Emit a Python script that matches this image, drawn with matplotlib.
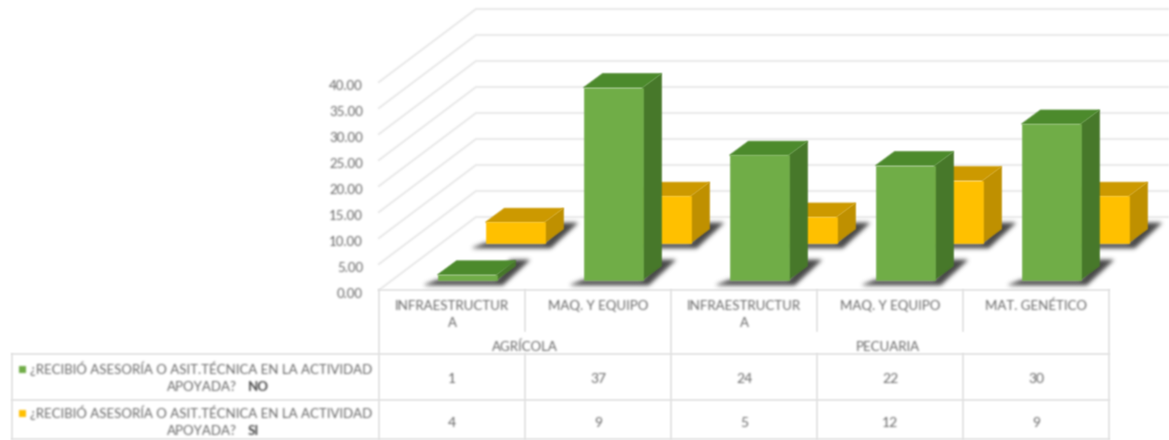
import numpy as np
import matplotlib
matplotlib.use("Agg")
import matplotlib.pyplot as plt
from matplotlib.patches import Polygon, Rectangle
from matplotlib.transforms import Affine2D, ScaledTranslation

# ---- data ----
categories = ["INFRAESTRUCTUR\nA", "MAQ. Y EQUIPO", "INFRAESTRUCTUR\nA", "MAQ. Y EQUIPO", "MAT. GENÉTICO"]
groups = ["AGRÍCOLA", "PECUARIA"]
series_no = [1, 37, 24, 22, 30]
series_si = [4, 9, 5, 12, 9]
y_ticks = [0, 5, 10, 15, 20, 25, 30, 35, 40]
row_question = "¿RECIBIÓ ASESORÍA O ASIT.TÉCNICA EN LA ACTIVIDAD"
row_question2 = "APOYADA?"
row_answers = ["NO", "SI"]

# ---- style ----
W, H = 1169, 440
GREEN = ("#70ad47", "#4c8a2c", "#47782a")
YELLOW = ("#ffc000", "#cc9900", "#bf9000")
GRID = "#ececec"
TXT = "#666666"
LINE = "#e2e2e2"
plt.rcParams["font.family"] = ["Lato", "DejaVu Sans"]


def blur(passes):
    k = np.array([0.25, 0.5, 0.25])

    def f(im, dpi):
        pad = passes + 2
        im = np.pad(im, ((pad, pad), (pad, pad), (0, 0)), constant_values=0)
        a = im[..., 3:4]
        p = np.concatenate([im[..., :3] * a, a], axis=2)
        for _ in range(passes):
            p = k[0] * np.roll(p, 1, 0) + k[1] * p + k[2] * np.roll(p, -1, 0)
            p = k[0] * np.roll(p, 1, 1) + k[1] * p + k[2] * np.roll(p, -1, 1)
        al = np.maximum(p[..., 3:4], 1e-4)
        return np.concatenate([np.clip(p[..., :3] / al, 0, 1), p[..., 3:4]], axis=2), -pad, -pad

    return f


SOFT = blur(1)
TEXTBLUR = blur(2)
SHADOW = blur(10)

fig = plt.figure(figsize=(W / 100, H / 100), dpi=100, facecolor="white")
ax_l, ax_r, ax_top, ax_bot = 379, 1109, 82, 290
ax = fig.add_axes([ax_l / W, 1 - ax_bot / H, (ax_r - ax_l) / W, (ax_bot - ax_top) / H])
ax.set_xlim(-0.5, 4.5)
ax.set_ylim(0, 40)
ax.patch.set_alpha(0)
for s in ax.spines.values():
    s.set_visible(False)

UX = (ax_r - ax_l) / 5  # px per category
UY = (ax_bot - ax_top) / 40  # px per value


def dx(p):
    return p / UX


def dy(p):
    return p / UY


# walls: gridlines on side and back
wall_x, wall_y = dx(97), dy(73)
x_left = -0.5
x_right = -0.5 + (W - ax_l) / UX
for v in y_ticks:
    ln, = ax.plot([x_left, x_left + wall_x, x_right], [v, v + wall_y, v + wall_y],
                  color=GRID, lw=1.6, clip_on=False, zorder=1, solid_joinstyle="miter")
    ln.set_agg_filter(SOFT)


def bar3d(xc, value, base, colors, zorder):
    w = 59 / UX
    ddx, ddy = dx(19), dy(14)
    x0, x1 = xc - w / 2, xc + w / 2
    top = base + value
    shadow = [(x0 - dx(13), base - dy(5)), (x1 + dx(6), base - dy(5)),
              (x1 + dx(33), base + dy(20)), (x1 + dx(14), base + dy(20)),
              (x1, base), (x0, base)]
    faces = [
        (shadow, "#484848", SHADOW),
        ([(x1, base), (x1 + ddx, base + ddy), (x1 + ddx, top + ddy), (x1, top)], colors[2], SOFT),
        ([(x0, top), (x1, top), (x1 + ddx, top + ddy), (x0 + ddx, top + ddy)], colors[1], SOFT),
        ([(x0, base), (x1, base), (x1, top), (x0, top)], colors[0], SOFT),
    ]
    for pts, c, flt in faces:
        p = Polygon(pts, closed=True, facecolor=c, edgecolor=c, lw=0.5, clip_on=False, zorder=zorder)
        p.set_agg_filter(flt)
        ax.add_patch(p)


green_off, green_base = dx(15), dy(10)
yellow_off, yellow_base = dx(63), dy(47)
for i, v in enumerate(series_si):
    bar3d(i + yellow_off, v, yellow_base, YELLOW, 3)
for i, v in enumerate(series_no):
    bar3d(i + green_off, v, green_base, GREEN, 4)

# axes ticks
ax.set_yticks(y_ticks)
ax.set_yticklabels([f"{v:.2f}" for v in y_ticks])
ax.set_xticks(range(len(categories)))
ax.set_xticklabels(categories, linespacing=1.55)
ax.tick_params(axis="y", length=0, pad=11.5, labelsize=9.5, labelcolor=TXT)
ax.tick_params(axis="x", length=0, pad=7, labelsize=9.5, labelcolor=TXT)
down = ScaledTranslation(0, -3.5 / 100, fig.dpi_scale_trans)
for t in ax.get_yticklabels():
    t.set_transform(t.get_transform() + down)
for t in ax.get_xticklabels() + ax.get_yticklabels():
    t.set_agg_filter(TEXTBLUR)

# table, in pixel coordinates
px = Affine2D().scale(1, -1).translate(0, H)


def hline(x0, x1, y):
    l, = ax.plot([x0, x1], [y, y], color=LINE, lw=1.2, transform=px, clip_on=False, zorder=2)
    l.set_agg_filter(SOFT)


def vline(x, y0, y1):
    l, = ax.plot([x, x], [y0, y1], color=LINE, lw=1.2, transform=px, clip_on=False, zorder=2)
    l.set_agg_filter(SOFT)


def label(px_x, px_y, s, **kw):
    opts = dict(color=TXT, fontsize=9.5, ha="center", va="center", transform=px, clip_on=False)
    opts.update(kw)
    t = ax.text(px_x, px_y, s, **opts)
    t.set_agg_filter(TEXTBLUR)
    return t


hline(379, 1109, 290)
hline(12, 1109, 354)
hline(12, 1109, 400)
hline(12, 1109, 439)
vline(12, 354, 439)
vline(379, 290, 439)
vline(671, 290, 439)
vline(1109, 290, 439)
for x in (525, 817, 963):
    vline(x, 290, 331)
    vline(x, 354, 439)

label(525, 347, groups[0])
label(888, 347, groups[1])

col_x = [452, 598, 744, 890, 1036]
for vals, ry in zip((series_no, series_si), (379, 423)):
    for x, v in zip(col_x, vals):
        label(x, ry, str(v), fontsize=10)

for ry, ans, col, ly in zip((369, 413), row_answers, (GREEN[0], YELLOW[0]), (369, 413)):
    label(201, ry, row_question)
    label(202, ry + 18, row_question2)
    label(248, ry + 18, ans, ha="left", fontweight="bold", color="#4a4a4a", fontsize=9.5)
    r = Rectangle((19, ly - 3.5), 7, 7, facecolor=col, edgecolor="none", transform=px, clip_on=False, zorder=3)
    r.set_agg_filter(TEXTBLUR)
    ax.add_patch(r)

fig.savefig("out.png", dpi=100, facecolor="white")
